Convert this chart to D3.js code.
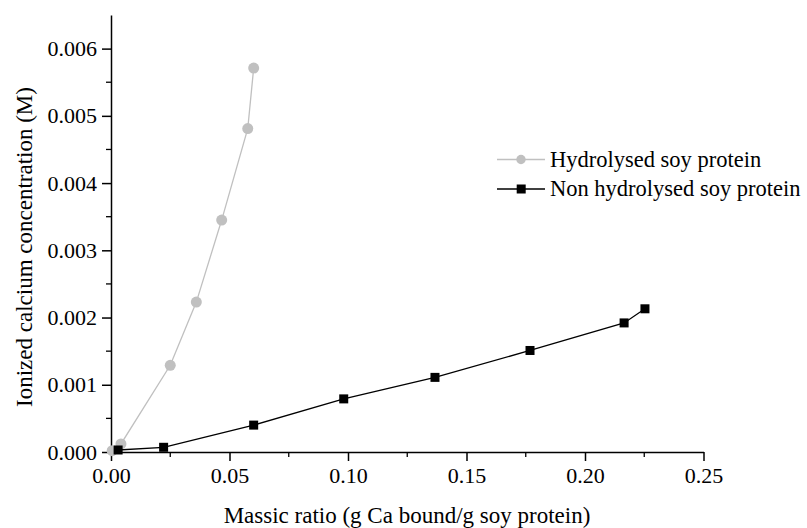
<!DOCTYPE html>
<html><head><meta charset="utf-8">
<script src="https://cdn.jsdelivr.net/npm/d3@7"></script>
<style>body{margin:0;background:#fff}svg{display:block}svg text{font-family:"Liberation Serif","DejaVu Serif",serif}</style>
</head><body>
<svg id="c" width="807" height="528"></svg>
<script>
const hydX = [0.0005, 0.0042, 0.025, 0.036, 0.0467, 0.0577, 0.0602];
const hydY = [0.00002, 0.00012, 0.00129, 0.00223, 0.00345, 0.00481, 0.00571];
const nonX = [0.003, 0.0222, 0.0602, 0.0982, 0.1367, 0.1768, 0.2165, 0.2253];
const nonY = [0.00003, 0.00007, 0.00040, 0.00079, 0.00111, 0.00151, 0.00192, 0.00213];
const xTicks = [0, 0.05, 0.10, 0.15, 0.20, 0.25];
const yTicks = [0, 0.001, 0.002, 0.003, 0.004, 0.005, 0.006];
const seriesNames = ["Hydrolysed soy protein", "Non hydrolysed soy protein"];

const svg = d3.select("#c");
const x = d3.scaleLinear().domain([0, 0.25]).range([111, 703.5]);
const y = d3.scaleLinear().domain([0, 0.0065]).range([452, 15]);

const xMinor = d3.range(0.025, 0.25, 0.05);
const yMinor = d3.range(0.0005, 0.0065, 0.001);
svg.append("g").selectAll("line").data(xMinor).join("line")
  .attr("x1", d => x(d)).attr("x2", d => x(d)).attr("y1", 452).attr("y2", 457)
  .attr("stroke", "#000").attr("stroke-width", 1.3);
svg.append("g").selectAll("line").data(yMinor).join("line")
  .attr("x1", 106).attr("x2", 111).attr("y1", d => y(d)).attr("y2", d => y(d))
  .attr("stroke", "#000").attr("stroke-width", 1.3);

const xAxis = svg.append("g").attr("transform", "translate(0,452)")
  .call(d3.axisBottom(x).tickValues(xTicks).tickFormat(d3.format(".2f")).tickSize(9).tickSizeOuter(0).tickPadding(6));
const yAxis = svg.append("g").attr("transform", "translate(111,0)")
  .call(d3.axisLeft(y).tickValues(yTicks).tickFormat(d3.format(".3f")).tickSize(9).tickSizeOuter(0).tickPadding(5));
[xAxis, yAxis].forEach(a => {
  a.attr("font-family", null);
  a.selectAll("path,line").attr("stroke", "#000").attr("stroke-width", 1.5);
  a.selectAll("text").style("font-size", "22px").attr("fill", "#000");
});

svg.append("text").attr("x", 407).attr("y", 523).attr("text-anchor", "middle")
  .style("font-size", "23px").text("Massic ratio (g Ca bound/g soy protein)");
svg.append("text").attr("transform", "translate(32,247) rotate(-90)").attr("text-anchor", "middle")
  .style("font-size", "23px").text("Ionized calcium concentration (M)");

const line = d3.line().x(d => x(d[0])).y(d => y(d[1]));
const hyd = hydX.map((v, i) => [v, hydY[i]]);
const non = nonX.map((v, i) => [v, nonY[i]]);
const gray = "#c0c0c0";

svg.append("path").datum(hyd).attr("d", line).attr("fill", "none").attr("stroke", gray).attr("stroke-width", 1.3);
svg.append("g").selectAll("circle").data(hyd).join("circle")
  .attr("cx", d => x(d[0])).attr("cy", d => y(d[1])).attr("r", 5.5).attr("fill", gray);

svg.append("path").datum(non).attr("d", line).attr("fill", "none").attr("stroke", "#000").attr("stroke-width", 1.3);
svg.append("g").selectAll("rect").data(non).join("rect")
  .attr("x", d => x(d[0]) - 4.5).attr("y", d => y(d[1]) - 4.5).attr("width", 9).attr("height", 9).attr("fill", "#000");

const lg = svg.append("g");
[0, 1].forEach(i => {
  const ly = 159.5 + i * 29.5;
  lg.append("line").attr("x1", 497).attr("x2", 545).attr("y1", ly).attr("y2", ly)
    .attr("stroke", i ? "#000" : gray).attr("stroke-width", 1.3);
  if (i === 0) lg.append("circle").attr("cx", 521).attr("cy", ly).attr("r", 4.7).attr("fill", gray);
  else lg.append("rect").attr("x", 516.7).attr("y", ly - 4.5).attr("width", 9).attr("height", 9).attr("fill", "#000");
  lg.append("text").attr("x", 550).attr("y", ly + 7.3).style("font-size", "22.5px")
    .text(seriesNames[i]);
});
</script>
</body></html>
